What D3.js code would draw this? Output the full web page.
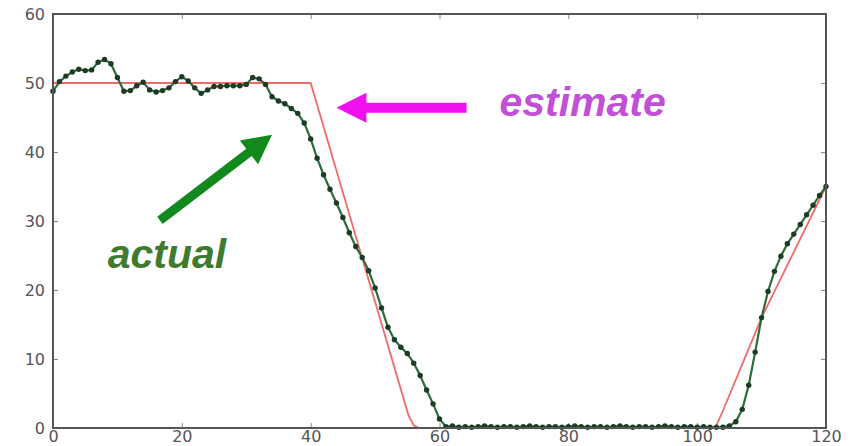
<!DOCTYPE html>
<html>
<head>
<meta charset="utf-8">
<script src="https://cdn.jsdelivr.net/npm/d3@7"></script>
<style>
  html, body { margin: 0; padding: 0; background: #fff; }
  svg { display: block; }
  .tick text { font-family: "DejaVu Sans", sans-serif; font-size: 16px; fill: #555; }
  .tick line { stroke: #888; }
  .domain { display: none; }
</style>
</head>
<body>
<div id="chart"></div>
<script>
// actual trajectory, one sample per x step (x = 0..120)
const actualValues = [
  48.8, 50.2, 51.0, 51.6, 52.0, 51.8, 51.9, 53.0, 53.4, 52.8,
  50.8, 48.8, 48.9, 49.6, 50.1, 49.0, 48.7, 48.9, 49.3, 50.2,
  50.9, 50.3, 49.3, 48.5, 49.0, 49.5, 49.5, 49.6, 49.6, 49.6,
  49.8, 50.8, 50.6, 49.8, 48.0, 47.4, 47.0, 46.3, 45.6, 44.2,
  41.9, 39.1, 36.7, 34.6, 32.6, 30.5, 28.3, 26.3, 24.7, 22.8,
  20.3, 17.4, 14.6, 12.8, 11.7, 10.8, 9.4, 7.6, 5.5, 3.5,
  1.3, 0.2, 0.3, 0.1, 0.2, 0.1, 0.2, 0.3, 0.2, 0.1,
  0.2, 0.2, 0.1, 0.2, 0.3, 0.2, 0.1, 0.2, 0.2, 0.1,
  0.2, 0.3, 0.2, 0.1, 0.2, 0.2, 0.1, 0.2, 0.3, 0.2,
  0.1, 0.2, 0.2, 0.1, 0.2, 0.3, 0.2, 0.1, 0.2, 0.2,
  0.1, 0.2, 0.1, 0.1, 0.1, 0.3, 0.9, 2.7, 6.2, 11.0,
  16.0, 19.8, 22.7, 24.9, 26.7, 28.1, 29.5, 30.9, 32.3, 33.7, 35.0
];

// estimate (piecewise)
const estimateX = [0, 40, 55.2, 56.0, 56.8, 102.8, 104, 110, 120];
const estimateY = [50, 50, 1.8, 0.4, 0, 0, 2.5, 16, 35];

const xTicks = [0, 20, 40, 60, 80, 100, 120];
const yTicks = [0, 10, 20, 30, 40, 50, 60];

const width = 854, height = 446;
const margin = { top: 14, right: 28, bottom: 18, left: 53 };

const svg = d3.select('#chart').append('svg')
  .attr('width', width)
  .attr('height', height);

const x = d3.scaleLinear().domain([0, 120]).range([margin.left, width - margin.right]);
const y = d3.scaleLinear().domain([0, 60]).range([height - margin.bottom, margin.top]);

// ticks (inward, matplotlib style)
svg.append('g')
  .attr('transform', `translate(0,${y(0)})`)
  .call(d3.axisBottom(x).tickValues(xTicks).tickSize(-5).tickPadding(4))
  .selectAll('text').attr('dy', '0.6em');
svg.append('g')
  .attr('transform', `translate(0,${y(60)})`)
  .call(d3.axisTop(x).tickValues(xTicks).tickSize(-5).tickFormat(''));
svg.append('g')
  .attr('transform', `translate(${x(0)},0)`)
  .call(d3.axisLeft(y).tickValues(yTicks).tickSize(-5).tickPadding(8));
svg.append('g')
  .attr('transform', `translate(${x(120)},0)`)
  .call(d3.axisRight(y).tickValues(yTicks).tickSize(-5).tickFormat(''));

// estimate line
const estLine = d3.line()
  .x((d, i) => x(estimateX[i]))
  .y(d => y(d));
svg.append('path')
  .attr('d', estLine(estimateY))
  .attr('fill', 'none')
  .attr('stroke', '#f06a6a')
  .attr('stroke-width', 1.8);

// actual line + markers
const actLine = d3.line()
  .x((d, i) => x(i))
  .y(d => y(d));
svg.append('path')
  .attr('d', actLine(actualValues))
  .attr('fill', 'none')
  .attr('stroke', '#2f6b3a')
  .attr('stroke-width', 2.2);
svg.append('g').selectAll('circle')
  .data(actualValues)
  .join('circle')
  .attr('cx', (d, i) => x(i))
  .attr('cy', d => y(d))
  .attr('r', 2.7)
  .attr('fill', '#1c3b24');

// frame
svg.append('rect')
  .attr('x', x(0)).attr('y', y(60))
  .attr('width', x(120) - x(0)).attr('height', y(0) - y(60))
  .attr('fill', 'none')
  .attr('stroke', '#555')
  .attr('stroke-width', 2);

// arrow helper (pixel space)
function arrow(x0, y0, x1, y1, shaft, headLen, headW, color) {
  const dx = x1 - x0, dy = y1 - y0;
  const len = Math.sqrt(dx * dx + dy * dy);
  const ux = dx / len, uy = dy / len;
  const px = -uy, py = ux;
  const bx = x1 - ux * headLen, by = y1 - uy * headLen;
  const pts = [
    [x0 + px * shaft / 2, y0 + py * shaft / 2],
    [bx + px * shaft / 2, by + py * shaft / 2],
    [bx + px * headW / 2, by + py * headW / 2],
    [x1, y1],
    [bx - px * headW / 2, by - py * headW / 2],
    [bx - px * shaft / 2, by - py * shaft / 2],
    [x0 - px * shaft / 2, y0 - py * shaft / 2]
  ];
  svg.append('polygon')
    .attr('points', pts.map(p => p.join(',')).join(' '))
    .attr('fill', color);
}

// annotations
arrow(x(64.2), y(46.4), x(44), y(46.4), 10, 30, 30, '#f010f0');
svg.append('text')
  .attr('x', x(69.3)).attr('y', y(45.2))
  .attr('font-family', 'Liberation Sans, Arial, sans-serif')
  .attr('font-size', 41)
  .attr('font-weight', 'bold')
  .attr('font-style', 'italic')
  .attr('fill', '#c150d6')
  .text('estimate');

arrow(x(16.6), y(30.1), x(34), y(42.5), 9, 29, 30, '#12891c');
svg.append('text')
  .attr('x', x(8.5)).attr('y', y(23.2))
  .attr('font-family', 'Liberation Sans, Arial, sans-serif')
  .attr('font-size', 41)
  .attr('font-weight', 'bold')
  .attr('font-style', 'italic')
  .attr('fill', '#3f7a2f')
  .text('actual');
</script>
</body>
</html>
